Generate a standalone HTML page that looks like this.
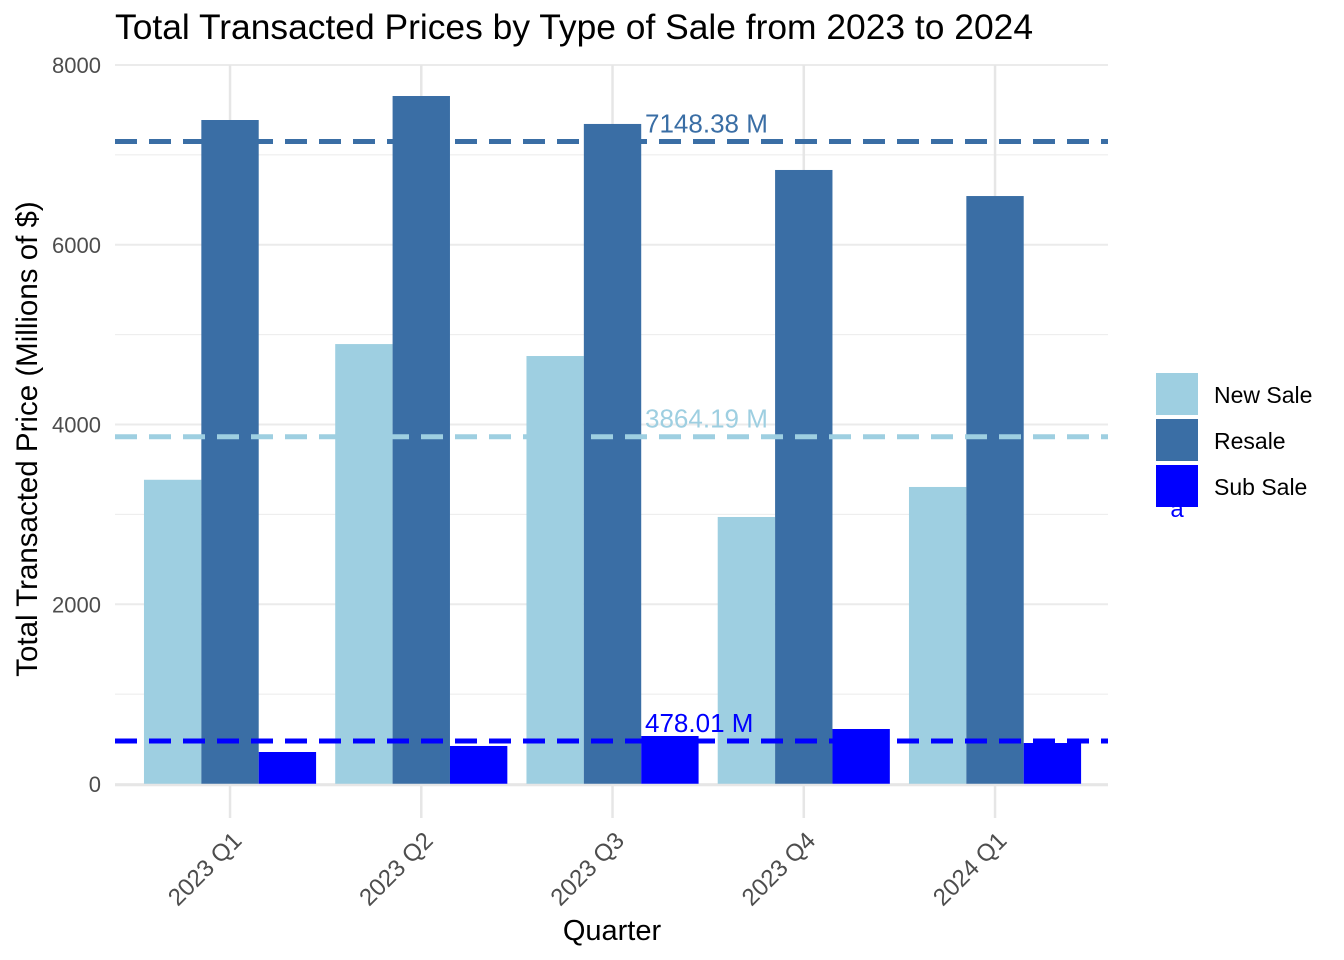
<!DOCTYPE html>
<html><head><meta charset="utf-8"><style>body{margin:0;background:#fff}svg{display:block;font-family:"Liberation Sans",sans-serif}</style></head>
<body>
<svg id="chart" width="1344" height="960" xmlns="http://www.w3.org/2000/svg">
<text x="115" y="39" font-size="35" fill="#000" textLength="918" lengthAdjust="spacingAndGlyphs">Total Transacted Prices by Type of Sale from 2023 to 2024</text>
<g id="grid"></g><g id="bars"></g><g id="lines"></g><g id="axes"></g>
<text x="612" y="940" font-size="29" text-anchor="middle">Quarter</text>
<text transform="translate(37,439) rotate(-90)" font-size="29.5" text-anchor="middle">Total Transacted Price (Millions of $)</text>
<g id="legend"></g>
</svg>
<script>
const categories=["2023 Q1","2023 Q2","2023 Q3","2023 Q4","2024 Q1"];
const seriesNames=["New Sale","Resale","Sub Sale"];
const newSale=[3385,4895,4762,2971,3305];
const resale=[7388,7655,7344,6832,6542];
const subSale=[356,423,534,612,456];
const means=[3864.19,7148.38,478.01];
const meanLabels=["3864.19 M","7148.38 M","478.01 M"];
const yTicks=[0,2000,4000,6000,8000];
const colors=["#9ecfe1","#3a6ea5","#0000ff"];
const NS="http://www.w3.org/2000/svg";
const x0=115,x1=1108,y0=784,yTop=65;
const y=v=>y0-(v/8000)*(y0-yTop);
const step=191.25, xs=134.4;
const cx=i=>xs+step*(i+0.5);
const bw=step*0.9/3;
function mk(t,a,p){const e=document.createElementNS(NS,t);for(const k in a)e.setAttribute(k,a[k]);p.appendChild(e);return e;}
const grid=document.getElementById('grid');
for(let v=0;v<=8000;v+=1000){const l=mk('line',{x1:x0,x2:x1,y1:y(v),y2:y(v),stroke:'#ebebeb','stroke-width':v%2000?1:2},grid);
}
categories.forEach((c,i)=>{const l=mk('line',{x1:cx(i),x2:cx(i),y1:yTop,y2:y0+34,stroke:'#e6e6e6','stroke-width':2.5},grid);
});
const bars=document.getElementById('bars');
const series=[newSale,resale,subSale];
series.forEach((s,j)=>s.forEach((v,i)=>{const r=mk('rect',{x:cx(i)-1.5*bw+j*bw,y:y(v),width:bw,height:y0-y(v),fill:colors[j]},bars);
}));
const lines=document.getElementById('lines');
means.forEach((m,j)=>{const l=mk('line',{x1:x0,x2:x1,y1:y(m),y2:y(m),stroke:colors[j],'stroke-width':5,'stroke-dasharray':'22 12'},lines);

const t=mk('text',{x:645,y:y(m)-9,'font-size':26,fill:colors[j]},lines);t.textContent=meanLabels[j];
});
const axes=document.getElementById('axes');
const ax=mk('line',{x1:x0,x2:x1,y1:y0+1,y2:y0+1,stroke:'#e6e6e6','stroke-width':2.5},axes);

yTicks.forEach(v=>{const t=mk('text',{x:101,y:y(v)+8,'font-size':22,fill:'#4d4d4d','text-anchor':'end'},axes);t.textContent=v;
});
categories.forEach((c,i)=>{const t=mk('text',{transform:`translate(${cx(i)+13},${842}) rotate(-45)`,'font-size':24,fill:'#4d4d4d','text-anchor':'end'},axes);t.textContent=c;
});
const lg=document.getElementById('legend');
seriesNames.forEach((n,j)=>{const yy=373+j*46;const r=mk('rect',{x:1156,y:yy,width:42,height:42,fill:colors[j]},lg);

const t=mk('text',{x:1214,y:yy+30,'font-size':23,fill:'#000'},lg);t.textContent=n;
});
const a=mk('text',{x:1177,y:517,'font-size':24,fill:'#0000ff','text-anchor':'middle'},lg);a.textContent='a';

</script>
</body></html>
